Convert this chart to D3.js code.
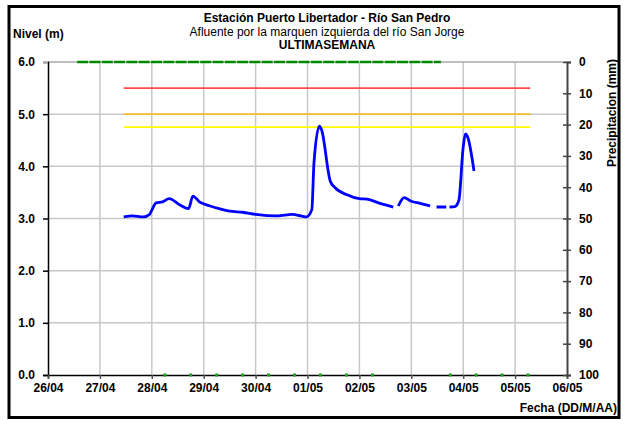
<!DOCTYPE html>
<html><head><meta charset="utf-8">
<script src="https://cdn.jsdelivr.net/npm/d3@7"></script>
<style>body{margin:0;background:#fff}svg{display:block;font-family:"Liberation Sans",Arial,sans-serif}</style>
</head><body><svg id="c" width="628" height="426"></svg>
<script>
const titleLines = ["Estación Puerto Libertador - Río San Pedro","Afluente por la marquen izquierda del río San Jorge","ULTIMASEMANA"];
const xDomain = ["26/04 00:00","06/05 00:00"];
const levelTicks = [0,1,2,3,4,5,6];
const precipTicks = [0,10,20,30,40,50,60,70,80,90,100];
// Nivel (m) observations; null = gap
const levelTimes = ["27/04 11:00","27/04 15:00","27/04 20:00","27/04 23:00","28/04 00:00","28/04 02:00","28/04 05:00","28/04 08:00","28/04 13:00","28/04 17:00","28/04 19:00","28/04 22:00","29/04 03:00","29/04 08:00","29/04 12:00","29/04 18:00","30/04 00:00","30/04 10:00","30/04 17:00","30/04 21:00","30/04 23:30","01/05 02:00","01/05 03:00","01/05 05:30","01/05 06:30","01/05 10:30","01/05 12:30","01/05 18:00","02/05 00:00","02/05 03:30","02/05 09:30","02/05 15:40","02/05 17:00","02/05 18:00","02/05 20:40","03/05 00:00","03/05 04:00","03/05 08:40","03/05 10:00","03/05 11:40","03/05 16:10","03/05 17:00","03/05 17:40","03/05 20:10","03/05 22:00","04/05 00:00","04/05 01:00","04/05 02:00","04/05 05:00"];
const levelValues = [3.03,3.05,3.03,3.08,3.16,3.30,3.32,3.38,3.26,3.19,3.43,3.32,3.24,3.18,3.14,3.12,3.08,3.05,3.08,3.05,3.03,3.17,4.07,4.77,4.70,3.72,3.60,3.46,3.38,3.37,3.29,3.22,null,3.24,3.40,3.33,3.29,3.24,null,3.22,3.22,null,3.22,3.23,3.35,4.37,4.62,4.57,3.91];
// Threshold levels
const thresholdNames = ["roja","naranja","amarilla"];
const thresholdValues = [5.5,5.0,4.75];
const thresholdColors = ["#ff4b4b","#f7bd2c","#ffff00"];
const thresholdRange = ["27/04 11:00","05/05 07:00"];
// Precipitation (mm)
const precipTopTimes = ["26/04 13:30","03/05 13:40"];
const precipTopValues = [0,0];
const precipDotTimes = ["28/04 06:00","28/04 18:00","29/04 06:00","29/04 18:00","30/04 06:00","30/04 18:00","01/05 06:00","01/05 18:00","02/05 06:00","03/05 18:00","04/05 06:00","04/05 18:00","05/05 06:00"];
const precipDotValues = [100,100,100,100,100,100,100,100,100,100,100,100,100];

const parse = d3.timeParse("%d/%m %H:%M");
const svg = d3.select("#c");
const L = 48, R = 567, T = 62, B = 375;
const x = d3.scaleTime().domain(xDomain.map(parse)).range([L, R]);
const y = d3.scaleLinear().domain([0, 6]).range([B, T]);
const y2 = d3.scaleLinear().domain([0, 100]).range([T, B]);

// frame
svg.append("rect").attr("x",9).attr("y",6.5).attr("width",610).attr("height",411).attr("fill","#fff").attr("stroke","#000").attr("stroke-width",3);

// grid
const days = d3.timeDay.range(parse(xDomain[0]), d3.timeDay.offset(parse(xDomain[1]),1));
svg.append("g").selectAll("line").data(days.slice(1, -1)).join("line")
  .attr("x1", d => x(d)).attr("x2", d => x(d)).attr("y1", T).attr("y2", B)
  .attr("stroke", "#c8c8c8").attr("stroke-width", 1.5);
svg.append("g").selectAll("line").data(levelTicks.slice(1)).join("line")
  .attr("x1", L).attr("x2", R).attr("y1", d => y(d)).attr("y2", d => y(d))
  .attr("stroke", d => d === 6 ? "#a8a8a8" : "#c8c8c8").attr("stroke-width", 1.5);

// axes
const axL = svg.append("g").attr("transform", `translate(${L},0)`)
  .call(d3.axisLeft(y).tickValues(levelTicks).tickFormat(d3.format(".1f")).tickSize(5).tickPadding(8));
axL.select(".domain").attr("stroke","#000").attr("stroke-width",1.5);
axL.selectAll(".tick line").attr("stroke", d => d === 6 ? "#a8a8a8" : "#000").attr("stroke-width",1.5);
axL.selectAll("text").attr("font-size",12).attr("font-weight","bold").attr("fill","#000").attr("font-family","Liberation Sans, Arial, sans-serif");

const axB = svg.append("g").attr("transform", `translate(0,${B})`)
  .call(d3.axisBottom(x).tickValues(days).tickFormat(d3.timeFormat("%d/%m")).tickSize(4).tickPadding(4));
axB.select(".domain").attr("stroke","#000").attr("stroke-width",1.5);
axB.selectAll(".tick line").attr("stroke","#555").attr("stroke-width",1.5);
axB.selectAll("text").attr("font-size",12).attr("font-weight","bold").attr("fill","#000").attr("font-family","Liberation Sans, Arial, sans-serif");

const axR = svg.append("g").attr("transform", `translate(${R},0)`)
  .call(d3.axisRight(y2).tickValues(precipTicks).tickSize(4).tickPadding(8));
axR.select(".domain").attr("stroke","#444").attr("stroke-width",2);
axR.selectAll(".tick line").attr("x1",-4).attr("stroke","#444").attr("stroke-width",1.5);
axR.selectAll("text").attr("font-size",12).attr("font-weight","bold").attr("fill","#000").attr("font-family","Liberation Sans, Arial, sans-serif");

// thresholds
svg.append("g").selectAll("line").data(thresholdValues).join("line")
  .attr("x1", x(parse(thresholdRange[0]))).attr("x2", x(parse(thresholdRange[1])))
  .attr("y1", d => y(d)).attr("y2", d => y(d))
  .attr("stroke", (d,i) => thresholdColors[i]).attr("stroke-width", 1.8);

// precipitation
const topData = precipTopTimes.map((t,i) => ({t: parse(t), v: precipTopValues[i]}));
svg.append("path").datum(topData)
  .attr("d", d3.line().x(d => x(d.t)).y(d => y2(d.v)))
  .attr("fill","none").attr("stroke","#008a00").attr("stroke-width",2.5).attr("stroke-dasharray","11,1.3");
svg.append("g").selectAll("rect").data(precipDotTimes.map((t,i)=>({t: parse(t), v: precipDotValues[i]}))).join("rect")
  .attr("x", d => x(d.t) - 1.5).attr("y", d => y2(d.v) - 1.5).attr("width",3).attr("height",3).attr("fill","#1aa01a");

// level line
const lvl = levelTimes.map((t,i) => ({t: parse(t), v: levelValues[i]}));
svg.append("path").datum(lvl)
  .attr("d", d3.line().defined(d => d.v !== null).x(d => x(d.t)).y(d => y(d.v)).curve(d3.curveMonotoneX))
  .attr("fill","none").attr("stroke","#0000ff").attr("stroke-width",2.8).attr("stroke-linejoin","round");

// texts
const tg = svg.append("g").attr("font-size",12).attr("fill","#000").attr("text-anchor","middle");
tg.append("text").attr("x",327).attr("y",22).attr("font-weight","bold").text(titleLines[0]);
tg.append("text").attr("x",327).attr("y",36).text(titleLines[1]);
tg.append("text").attr("x",327).attr("y",49).attr("font-weight","bold").text(titleLines[2]);
svg.append("text").attr("x",13).attr("y",38).attr("font-size",12).attr("font-weight","bold").text("Nivel (m)");
svg.append("text").attr("x",617).attr("y",412).attr("font-size",12).attr("font-weight","bold").attr("text-anchor","end").text("Fecha (DD/M/AA)");
svg.append("text").attr("transform","translate(616,113) rotate(-90)").attr("font-size",12).attr("font-weight","bold").attr("text-anchor","middle").text("Precipitacion (mm)");
</script></body></html>
